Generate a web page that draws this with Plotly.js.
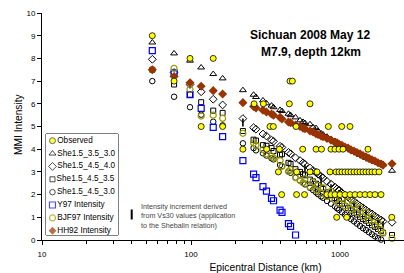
<!DOCTYPE html>
<html>
<head>
<meta charset="utf-8">
<script src="https://cdn.plot.ly/plotly-3.0.1.min.js"></script>
<style>
html,body{margin:0;padding:0;overflow:hidden;background:#fff;width:404px;height:273px}
#chart{width:489px;height:273px}
</style>
</head>
<body>
<div id="chart"></div>
<script>
// ---- data ----
const stationKm = [55,77,98.5,117,141,163,223,
  263,273,304,321,347,358,396,408,451,466,503,
  539,565,582,629,659,690,712,746,769,818,
  870,925,955,985,1031,1080,1132,1185,1242,1300,
  1362,1427,1494,1565,1640,1718,1799,1885,1944,2234];

const she35_30 = [8.7,8.22,7.9,7.6,7.31,7.12,6.6,
  6.40,6.30,6.15,6.02,5.92,5.85,5.73,5.68,5.56,5.50,5.40,
  5.27,5.20,5.15,5.10,4.97,4.93,4.80,4.70,4.65,4.55,
  4.45,4.36,4.30,4.25,4.18,4.10,4.03,3.95,3.88,3.82,
  3.75,3.68,3.62,3.55,3.50,3.45,3.40,3.38,3.33,3.05];

const she45_40 = [7.96,7.38,6.85,6.53,6.2,5.95,5.35,
  4.95,4.88,4.67,4.58,4.40,4.35,4.13,4.08,3.86,3.80,3.62,
  3.50,3.40,3.33,3.17,3.06,2.98,2.90,2.80,2.74,2.58,
  2.46,2.33,2.25,2.20,2.08,1.98,1.90,1.78,1.70,1.60,
  1.50,1.42,1.32,1.22,1.15,1.05,0.96,0.88,0.82,0.78];

const vs30Increment = [0,0,0,0,0,0,0.35,
  0,0,0,0,0,0,0,0,0,0,0,
  0,0,0.3,0,0,0,0,0.4,0,0,
  0.3,0,0,0.45,0,0.3,0,0,0.5,0,
  0.35,0,0.4,0,0.3,0,0.45,0,0.3,0];

const she45_35 = [7.5,6.85,6.4,6.07,5.7,5.6,4.8,
  4.42,4.38,4.18,4.15,4.05,3.92,3.75,3.78,3.40,3.35,3.12,
  3.00,2.90,2.85,2.66,2.58,2.48,2.42,2.30,2.25,2.10,
  1.97,1.85,1.78,1.72,1.60,1.50,1.40,1.30,1.20,1.12,
  1.02,0.92,0.85,0.75,0.65,0.58,0.48,0.40,0.32,0.22];

const she45_30 = [7.0,6.31,5.85,5.52,5.21,5.05,4.26,
  4.05,3.95,3.82,3.72,3.60,3.55,3.30,3.25,3.02,2.96,2.75,
  2.62,2.52,2.45,2.30,2.20,2.10,2.02,1.92,1.86,1.72,
  1.60,1.48,1.40,1.33,1.22,1.12,1.02,0.92,0.82,0.72,
  0.62,0.52,0.44,0.34,0.25,0.16,0.08,0.02,null,null];

const y97 = [8.34,7.35,6.4,5.8,4.96,4.55,3.5,
  2.9,2.75,2.35,2.15,1.83,1.73,1.32,1.22,0.72,0.6,0.22];

const bjf97 = [7.5,7.56,6.64,5.46,5.5,5.36,4.7,
  4.28,4.18,3.98,3.80,3.70,3.62,3.50,3.25,3.02,3.10,2.75,
  2.62,2.52,2.70,2.35,2.55,2.20,2.40,2.05,2.30,1.92,
  2.15,1.75,2.00,1.62,1.85,1.50,1.70,1.35,1.55,1.20,
  1.40,1.02,1.20,0.85,1.00,0.65,0.78,0.45,0.30,0.07];

const hh92 = [7.5,7.2,6.93,6.77,6.58,6.43,6.05,
  5.88,5.82,5.72,5.64,5.55,5.50,5.40,5.33,5.20,5.17,5.06,
  5.00,4.93,4.90,4.80,4.76,4.68,4.65,4.58,4.55,4.47,
  4.40,4.30,4.28,4.22,4.17,4.10,4.05,3.97,3.92,3.85,
  3.80,3.72,3.67,3.60,3.53,3.48,3.40,3.35,3.30,3.36];

const observedKm = [55,
  98.5,141,
  77,462,479,
  265,306,457,629,
  117,163,339,357,507,835,1027,1167,
  223,322,392,562,690,751,870,925,985,1047,1541,
  386,512,629,701,857,940,985,1031,1080,1132,1185,1242,1300,1362,1427,1494,1565,1640,1718,1827,
  406,511,578,818,870,925,1000,1080,1167,1261,1362,1472,1590,1718,1885,
  950,1109,2226];
const observedMMI = [9,
  8,8,
  7,7,7,
  6,6,6,6,
  5,5,5,5,5,5,5,5,
  4,4,4,4,4,4,4,4,4,4,4,
  3,3,3,3,3,3,3,3,3,3,3,3,3,3,3,3,3,3,3,3,
  2,2,2,2,2,2,2,2,2,2,2,2,2,2,2,
  1,1,1];

const seriesNames = ['Observed','She1.5_3.5_3.0','She1.5_4.5_4.0','She1.5_4.5_3.5',
  'She1.5_4.5_3.0','Y97 Intensity','BJF97 Intensity','HH92 Intensity'];
const xTickVals = [10,100,1000,10000];
const xTickText = ['10','100','1000','10000'];

// ---- styles ----
const styles = {
  'Observed':        {symbol:'circle', size:6, color:'#ffff00', lineColor:'#000', lineWidth:0.8},
  'She1.5_3.5_3.0':  {symbol:'triangle-up-open', size:6, color:'#000', lineColor:'#000', lineWidth:1},
  'She1.5_4.5_4.0':  {symbol:'diamond-open', size:6, color:'#000', lineColor:'#000', lineWidth:1},
  'She1.5_4.5_3.5':  {symbol:'square-open', size:5, color:'#000', lineColor:'#000', lineWidth:1},
  'She1.5_4.5_3.0':  {symbol:'circle-open', size:5.5, color:'#000', lineColor:'#000', lineWidth:1},
  'Y97 Intensity':   {symbol:'square-open', size:6, color:'#0000ff', lineColor:'#0000ff', lineWidth:1.2},
  'BJF97 Intensity': {symbol:'circle-open', size:6, color:'#999900', lineColor:'#999900', lineWidth:1.2},
  'HH92 Intensity':  {symbol:'diamond', size:7, color:'#993300', lineColor:'#993300', lineWidth:0}
};
function mk(name){const s=styles[name];return {symbol:s.symbol,size:s.size,color:s.color,line:{color:s.lineColor,width:s.lineWidth}};}
function tr(name,x,y,extra){return Object.assign({type:'scatter',mode:'markers',name:name,x:x,y:y,marker:mk(name),cliponaxis:false,hoverinfo:'skip',showlegend:false},extra||{});}

const traces = [
  tr('She1.5_3.5_3.0', stationKm, she35_30),
  tr('She1.5_4.5_4.0', stationKm, she45_40, {error_y:{type:'data',symmetric:false,array:vs30Increment.map(()=>0),arrayminus:vs30Increment,width:0,thickness:1.6,color:'#000'}}),
  tr('She1.5_4.5_3.5', stationKm, she45_35),
  tr('She1.5_4.5_3.0', stationKm, she45_30),
  tr('Y97 Intensity', stationKm.slice(0,y97.length), y97),
  tr('BJF97 Intensity', stationKm, bjf97),
  tr('HH92 Intensity', stationKm, hh92),
  tr('Observed', observedKm, observedMMI)
];

// legend keys drawn on a small hidden axis pair
traces.push({
  type:'scatter', mode:'markers+text', xaxis:'x2', yaxis:'y2',
  x: seriesNames.map(()=>0.09), y: seriesNames.map((_,i)=>i),
  text: seriesNames, textposition:'middle right',
  textfont:{size:8.2,color:'#000',family:'Arial, "Liberation Sans", sans-serif'},
  marker:{symbol:seriesNames.map(n=>styles[n].symbol), size:seriesNames.map(n=>Math.min(styles[n].size,6)),
    color:seriesNames.map(n=>styles[n].color),
    line:{color:seriesNames.map(n=>styles[n].lineColor), width:seriesNames.map(n=>styles[n].lineWidth)}},
  cliponaxis:false, hoverinfo:'skip', showlegend:false
});

const W = 447, H = 227; // plot area size in px
const px = v => (v-42)/W, py = v => (240-v)/H;

const layout = {
  width:489, height:273,
  margin:{l:42, r:0, t:13, b:33},
  paper_bgcolor:'#fff', plot_bgcolor:'#fff',
  font:{family:'Arial, "Liberation Sans", sans-serif', color:'#000', size:8},
  showlegend:false,
  xaxis:{type:'log', range:[1,4], dtick:1, exponentformat:'none',
    ticks:'outside', ticklen:4, tickcolor:'#000', showline:true, linecolor:'#000', linewidth:1,
    showgrid:false, zeroline:false, tickfont:{size:8}, ticklabelstandoff:2,
    minor:{ticks:'outside', ticklen:2.5, dtick:'D1', tickcolor:'#000', showgrid:false},
    title:{text:'Epicentral Distance (km)', font:{size:10.3}, standoff:8}},
  yaxis:{range:[0,10], dtick:1, tick0:0, ticks:'outside', ticklen:4, tickcolor:'#000',
    showline:true, linecolor:'#000', linewidth:1, showgrid:false, zeroline:false, tickfont:{size:8}},
  xaxis2:{domain:[px(46),px(118)], range:[0,1], visible:false, anchor:'y2', fixedrange:true},
  yaxis2:{domain:[py(235),py(134)], range:[7.33,-0.52], visible:false, anchor:'x2', fixedrange:true},
  shapes:[
    {type:'rect', xref:'x2 domain', yref:'y2 domain', x0:0, x1:1, y0:0, y1:1, line:{color:'#000', width:1}, fillcolor:'#fff', layer:'below'},
    {type:'line', xref:'paper', yref:'paper', x0:px(131.7), x1:px(131.7), y0:py(219.5), y1:py(209.5), line:{color:'#000', width:2}}
  ],
  annotations:[
    {text:'MMI Intensity', xref:'paper', yref:'paper', x:px(19), y:py(125), xanchor:'center', yanchor:'middle', textangle:-90, showarrow:false, font:{size:10.2}},
    {text:'<b>Sichuan 2008 May 12</b>', xref:'paper', yref:'paper', x:px(310), y:py(35), xanchor:'center', yanchor:'middle', showarrow:false, font:{size:12}},
    {text:'<b>M7.9, depth 12km</b>', xref:'paper', yref:'paper', x:px(310.5), y:py(51.7), xanchor:'center', yanchor:'middle', showarrow:false, font:{size:12}},
    {text:'Intensity increment derived<br>from Vs30 values (application<br>to the Shebalin relation)', xref:'paper', yref:'paper', x:px(139), y:py(215.7), xanchor:'left', yanchor:'middle', align:'left', showarrow:false, font:{size:7.2, color:'#444'}}
  ]
};

Plotly.newPlot('chart', traces, layout, {staticPlot:true, displayModeBar:false});
</script>
</body>
</html>
